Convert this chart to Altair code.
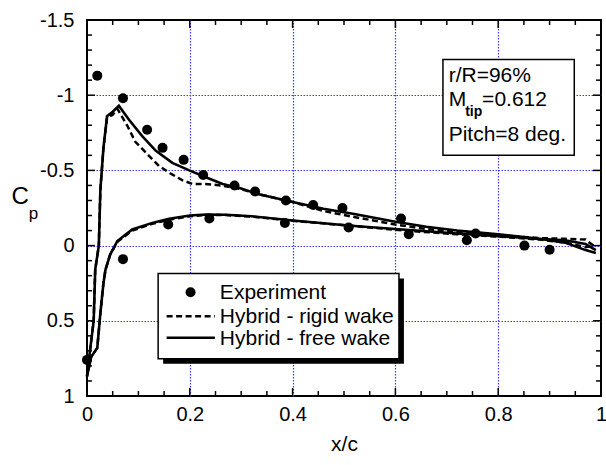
import altair as alt
import pandas as pd

# ---------------- data ----------------
exp_x = [0.0, 0.02, 0.07, 0.117, 0.147, 0.188, 0.226, 0.287, 0.327, 0.387, 0.44, 0.497, 0.611, 0.756,
         0.07, 0.158, 0.238, 0.385, 0.509, 0.626, 0.739, 0.851, 0.90]
exp_cp = [0.76, -1.13, -0.98, -0.77, -0.65, -0.57, -0.47, -0.40, -0.36, -0.30, -0.27, -0.25, -0.18, -0.08,
          0.09, -0.14, -0.18, -0.15, -0.12, -0.075, -0.035, 0.0, 0.027]

free_up_x = [0.0, 0.004, 0.013, 0.016, 0.023, 0.026, 0.032, 0.039, 0.05, 0.062, 0.081, 0.107, 0.134, 0.166,
             0.199, 0.231, 0.264, 0.30, 0.33, 0.40, 0.46, 0.52, 0.60, 0.66, 0.72, 0.80, 0.88, 0.93, 0.97, 0.99]
free_up_cp = [0.87, 0.75, 0.5, 0.16, 0.0, -0.37, -0.65, -0.86, -0.89, -0.93, -0.84, -0.73, -0.63, -0.55,
              -0.50, -0.455, -0.41, -0.38, -0.345, -0.29, -0.245, -0.21, -0.158, -0.125, -0.10, -0.075,
              -0.045, -0.02, 0.03, 0.05]
free_lo_x = [0.0, 0.008, 0.02, 0.026, 0.032, 0.036, 0.045, 0.059, 0.088, 0.127, 0.16, 0.20, 0.231, 0.27,
             0.32, 0.40, 0.52, 0.60, 0.72, 0.80, 0.88, 0.93, 0.97, 0.99]
free_lo_cp = [0.87, 0.74, 0.68, 0.45, 0.25, 0.16, 0.06, -0.03, -0.107, -0.151, -0.178, -0.20, -0.207, -0.205,
              -0.195, -0.167, -0.13, -0.11, -0.08, -0.063, -0.045, -0.035, -0.01, 0.03]

rigid_up_x = [0.0, 0.004, 0.013, 0.016, 0.023, 0.026, 0.032, 0.039, 0.05, 0.059, 0.078, 0.094, 0.117, 0.14,
              0.163, 0.186, 0.205, 0.23, 0.26, 0.30, 0.33, 0.40, 0.46, 0.52, 0.60, 0.66, 0.72, 0.80, 0.88,
              0.93, 0.97, 0.985]
rigid_up_cp = [0.87, 0.75, 0.5, 0.16, 0.0, -0.37, -0.65, -0.85, -0.87, -0.91, -0.80, -0.69, -0.61, -0.53,
               -0.478, -0.434, -0.41, -0.41, -0.40, -0.375, -0.345, -0.29, -0.23, -0.19, -0.14, -0.11,
               -0.09, -0.07, -0.05, -0.045, -0.04, 0.0]
rigid_lo_x = [0.0, 0.008, 0.02, 0.026, 0.032, 0.036, 0.045, 0.059, 0.088, 0.127, 0.16, 0.20, 0.231, 0.27,
              0.32, 0.40, 0.52, 0.60, 0.72, 0.80, 0.88, 0.93, 0.97, 0.985]
rigid_lo_cp = [0.87, 0.74, 0.68, 0.45, 0.25, 0.16, 0.06, -0.025, -0.10, -0.145, -0.172, -0.195, -0.203,
               -0.203, -0.193, -0.165, -0.13, -0.105, -0.075, -0.06, -0.04, -0.02, 0.01, 0.0]

x_major = [0, 0.2, 0.4, 0.6, 0.8, 1]
x_minor = [0.05, 0.1, 0.15, 0.25, 0.3, 0.35, 0.45, 0.5, 0.55, 0.65, 0.7, 0.75, 0.85, 0.9, 0.95]
x_grid = [0.2, 0.4, 0.6, 0.8]
y_major = [-1.5, -1, -0.5, 0, 0.5, 1]
y_minor = [-1.4, -1.3, -1.2, -1.1, -0.9, -0.8, -0.7, -0.6, -0.4, -0.3, -0.2, -0.1,
           0.1, 0.2, 0.3, 0.4, 0.6, 0.7, 0.8, 0.9]
y_grid = [-1, -0.5, 0, 0.5]

legend_labels = ["Experiment", "Hybrid - rigid wake", "Hybrid - free wake"]
note_texts = ["r/R=96%", "M", "=0.612", "Pitch=8 deg."]
note_sub = ["tip"]
x_title = "x/c"
y_title = ["C", "p"]

FONT = "Liberation Sans, Arial, Helvetica, sans-serif"

# ---------------- tables ----------------
exp_df = pd.DataFrame({"x": exp_x, "cp": exp_cp})


def contour(ux, uc, lx, lc):
    xs_ = list(reversed(ux)) + lx[1:]
    cs_ = list(reversed(uc)) + lc[1:]
    return pd.DataFrame({"x": xs_, "cp": cs_, "i": list(range(len(xs_)))})


free_df = contour(free_up_x, free_up_cp, free_lo_x, free_lo_cp)
rigid_df = contour(rigid_up_x, rigid_up_cp, rigid_lo_x, rigid_lo_cp)

X0, X1 = 0.0, 1.0
Y0, Y1 = -1.5, 1.0
xs = alt.Scale(domain=[X0, X1], nice=False, zero=False)
ys = alt.Scale(domain=[Y0, Y1], reverse=True, nice=False, zero=False)

# inward tick segments (lengths in data units: ~8 px major, ~5 px minor)
LX_MAJ, LX_MIN = 0.0156, 0.0097   # along x for ticks on left/right edges
LY_MAJ, LY_MIN = 0.053, 0.033     # along y for ticks on top/bottom edges
tick_rows = []
for v, ly in [(v, LY_MAJ) for v in x_major] + [(v, LY_MIN) for v in x_minor]:
    tick_rows.append({"x1": v, "x2": v, "y1": Y1, "y2": Y1 - ly})   # bottom
    tick_rows.append({"x1": v, "x2": v, "y1": Y0, "y2": Y0 + ly})   # top
for v, lx in [(v, LX_MAJ) for v in y_major] + [(v, LX_MIN) for v in y_minor]:
    tick_rows.append({"x1": X0, "x2": X0 + lx, "y1": v, "y2": v})   # left
    tick_rows.append({"x1": X1, "x2": X1 - lx, "y1": v, "y2": v})   # right
ticks_df = pd.DataFrame(tick_rows)


def label_axis(orient, values):
    return alt.Axis(orient=orient, values=values, labelExpr="toString(datum.value)",
                    ticks=False, tickSize=0, domain=False, grid=False, labelFlush=False,
                    labelPadding=8 if orient == "bottom" else 13,
                    labelFont=FONT, labelFontSize=20, labelColor="black",
                    title=x_title if orient == "bottom" else "",
                    titleFont=FONT, titleFontSize=21, titleFontWeight="normal",
                    titleColor="black", titlePadding=9)


def grid_axis(orient, values):
    return alt.Axis(orient=orient, values=values, ticks=False, labels=False, domain=False,
                    grid=True, gridColor="#3b3bff", gridDash=[1.5, 1.5], gridWidth=1.2,
                    gridOpacity=1, title="")


def noax(chart, **kw):
    return chart.encode(x=alt.X("x:Q", scale=xs, axis=None), y=alt.Y("y:Q", scale=ys, axis=None), **kw)


def rect_layer(df, **mark):
    return alt.Chart(df).mark_rect(**mark).encode(
        x=alt.X("x1:Q", scale=xs, axis=None), x2="x2:Q",
        y=alt.Y("y1:Q", scale=ys, axis=None), y2="y2:Q")


grid_layer = alt.Chart(exp_df).mark_point(opacity=0).encode(
    x=alt.X("x:Q", scale=xs, axis=grid_axis("bottom", x_grid)),
    y=alt.Y("cp:Q", scale=ys, axis=grid_axis("left", y_grid)))

tick_layer = alt.Chart(ticks_df).mark_rule(color="black", strokeWidth=1.5).encode(
    x=alt.X("x1:Q", scale=xs, axis=None), x2="x2:Q",
    y=alt.Y("y1:Q", scale=ys, axis=None), y2="y2:Q")

rigid = alt.Chart(rigid_df).mark_line(color="black", strokeWidth=2.5, strokeDash=[6, 3.5]).encode(
    x=alt.X("x:Q", scale=xs, axis=None), y=alt.Y("cp:Q", scale=ys, axis=None), order="i:Q")

free = alt.Chart(free_df).mark_line(color="black", strokeWidth=2.6).encode(
    x=alt.X("x:Q", scale=xs, axis=None), y=alt.Y("cp:Q", scale=ys, axis=None), order="i:Q")

points = alt.Chart(exp_df).mark_circle(size=100, color="black", opacity=1).encode(
    x=alt.X("x:Q", scale=xs, axis=label_axis("bottom", x_major)),
    y=alt.Y("cp:Q", scale=ys, axis=label_axis("left", y_major)))

# ---------------- annotation box (upper right) ----------------
note_box = pd.DataFrame({"x1": [0.6925], "x2": [0.948], "y1": [-1.237], "y2": [-0.601]})
note_rect = rect_layer(note_box, fill="white", stroke="black", strokeWidth=1.5)

note_df = pd.DataFrame({
    "t": note_texts,
    "x": [0.7036, 0.7036, 0.7687, 0.7036],
    "y": [-1.089, -0.9315, -0.9315, -0.694],
})
note_text = noax(alt.Chart(note_df).mark_text(align="left", baseline="alphabetic", font=FONT,
                                              fontSize=21, color="black"), text="t:N")
note_sub_df = pd.DataFrame({"t": note_sub, "x": [0.7357], "y": [-0.862]})
note_subtext = noax(alt.Chart(note_sub_df).mark_text(align="left", baseline="alphabetic", font=FONT,
                                                     fontSize=14, fontWeight="bold", color="black"),
                    text="t:N")

# ---------------- legend box (manual, drawn from the lists) ----------------
leg_shadow = pd.DataFrame({"x1": [0.1481], "x2": [0.6166], "y1": [0.2188], "y2": [0.7859]})
leg_box = pd.DataFrame({"x1": [0.1384], "x2": [0.6069], "y1": [0.1856], "y2": [0.7527]})
shadow = rect_layer(leg_shadow, fill="black")
box = rect_layer(leg_box, fill="white", stroke="black", strokeWidth=1.5)

leg_text_df = pd.DataFrame({"t": legend_labels, "x": [0.2585] * 3, "y": [0.358, 0.513, 0.664]})
leg_text = noax(alt.Chart(leg_text_df).mark_text(align="left", baseline="alphabetic", font=FONT,
                                                 fontSize=21, color="black"), text="t:N")

leg_dot = noax(alt.Chart(pd.DataFrame({"x": [0.2015], "y": [0.31]})).mark_circle(
    size=100, color="black", opacity=1))

leg_dash = alt.Chart(pd.DataFrame({"x1": [0.1549], "x2": [0.2488], "y": [0.469]})).mark_rule(
    color="black", strokeWidth=2.5, strokeDash=[6, 3.5]).encode(
    x=alt.X("x1:Q", scale=xs, axis=None), x2="x2:Q", y=alt.Y("y:Q", scale=ys, axis=None))
leg_solid = alt.Chart(pd.DataFrame({"x1": [0.1549], "x2": [0.2488], "y": [0.613]})).mark_rule(
    color="black", strokeWidth=2.6).encode(
    x=alt.X("x1:Q", scale=xs, axis=None), x2="x2:Q", y=alt.Y("y:Q", scale=ys, axis=None))

# ---------------- C_p axis title ----------------
cp_df = pd.DataFrame({"t": y_title, "x": [-0.130, -0.104], "y": [-0.323, -0.213], "fs": [24, 17]})
cp_text = noax(alt.Chart(cp_df).mark_text(align="center", baseline="middle", font=FONT,
                                          color="black"),
               text="t:N", size=alt.Size("fs:Q", scale=None, legend=None))

chart = alt.layer(
    grid_layer, tick_layer, rigid, free, points,
    note_rect, note_text, note_subtext, shadow, box, leg_text, leg_dot, leg_dash, leg_solid, cp_text,
).resolve_axis(x="independent", y="independent").properties(
    width=514, height=376,
    padding={"left": 87, "top": 20, "right": 5, "bottom": 69},
    autosize=alt.AutoSizeParams(type="none"),
    background="white",
).configure_view(stroke="black", strokeWidth=2)

chart.save("out.html", embed_options={"renderer": "svg", "actions": False})
